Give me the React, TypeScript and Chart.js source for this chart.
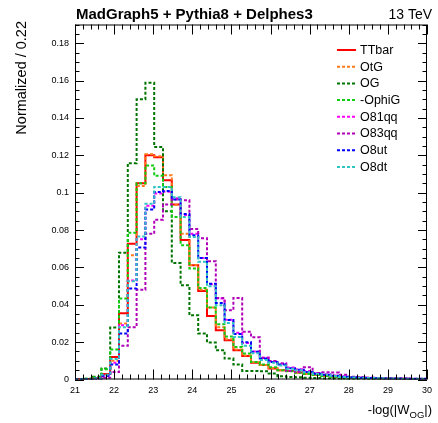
import React, { useEffect, useRef } from "react";
import { Chart, registerables } from "chart.js";
Chart.register(...registerables);

// Binning: 40 bins of width 0.225 from 21 to 30
const X_MIN = 21;
const X_MAX = 30;
const BIN_WIDTH = 0.225;
const Y_MAX = 0.19;

const TTbar = [0.0001, 0.0003, 0.0008, 0.003, 0.012, 0.0355, 0.0727, 0.105, 0.12, 0.119, 0.1066, 0.0936, 0.0747, 0.0611, 0.0474, 0.034, 0.0264, 0.021, 0.0157, 0.0126, 0.0089, 0.0077, 0.0059, 0.005, 0.0045, 0.0038, 0.003, 0.0025, 0.002, 0.0016, 0.0013, 0.001, 0.0009, 0.0007, 0.0006, 0.0005, 0.0004, 0.0004, 0.0003, 0.0003];
const OtG = [0.0001, 0.0003, 0.0007, 0.0025, 0.01, 0.03, 0.0665, 0.1035, 0.1205, 0.1195, 0.1093, 0.0935, 0.078, 0.0613, 0.048, 0.0385, 0.028, 0.0215, 0.016, 0.0128, 0.0092, 0.0078, 0.006, 0.005, 0.0045, 0.0037, 0.003, 0.0025, 0.002, 0.0016, 0.0013, 0.001, 0.0009, 0.0007, 0.0006, 0.0005, 0.0004, 0.0004, 0.0003, 0.0003];
const OG = [0.0001, 0.0004, 0.0015, 0.0059, 0.0278, 0.0679, 0.1158, 0.15, 0.1588, 0.1244, 0.09, 0.0624, 0.0504, 0.0344, 0.0246, 0.0198, 0.0157, 0.0112, 0.008, 0.0046, 0.0046, 0.0044, 0.0032, 0.0017, 0.0014, 0.0012, 0.001, 0.0008, 0.0006, 0.0005, 0.0004, 0.0003, 0.0003, 0.0002, 0.0002, 0.0002, 0.0001, 0.0001, 0.0001, 0.0001];
const OphiG = [0.0001, 0.0004, 0.0012, 0.0055, 0.016, 0.0433, 0.0786, 0.105, 0.1146, 0.109, 0.103, 0.087, 0.0718, 0.0594, 0.049, 0.0385, 0.0296, 0.023, 0.0174, 0.0139, 0.0094, 0.008, 0.0065, 0.005, 0.0044, 0.0036, 0.0029, 0.0024, 0.0019, 0.0015, 0.0012, 0.001, 0.0008, 0.0007, 0.0006, 0.0005, 0.0004, 0.0003, 0.0003, 0.0003];
const O81qq = [0.0001, 0.0002, 0.0005, 0.002, 0.009, 0.029, 0.053, 0.075, 0.093, 0.0995, 0.1005, 0.097, 0.088, 0.078, 0.065, 0.051, 0.0433, 0.032, 0.025, 0.0195, 0.015, 0.0118, 0.0098, 0.0085, 0.0064, 0.0055, 0.0045, 0.0035, 0.0028, 0.0022, 0.0017, 0.0013, 0.0011, 0.0009, 0.0008, 0.0006, 0.0005, 0.0005, 0.0004, 0.0004];
const O83qq = [0.0, 0.0001, 0.0003, 0.001, 0.004, 0.018, 0.028, 0.048, 0.078, 0.0855, 0.0936, 0.0964, 0.0959, 0.0805, 0.0756, 0.0633, 0.0436, 0.037, 0.0436, 0.0255, 0.0226, 0.0115, 0.0099, 0.0085, 0.0045, 0.004, 0.0065, 0.0035, 0.0039, 0.0037, 0.0026, 0.0015, 0.0013, 0.001, 0.0008, 0.0006, 0.0004, 0.0003, 0.0003, 0.0003];
const O8ut = [0.0001, 0.0002, 0.0005, 0.002, 0.008, 0.0246, 0.0487, 0.0706, 0.091, 0.1003, 0.1009, 0.0964, 0.0886, 0.0772, 0.065, 0.0513, 0.041, 0.0318, 0.0243, 0.0199, 0.0148, 0.0112, 0.0094, 0.008, 0.006, 0.0052, 0.004, 0.0031, 0.0026, 0.002, 0.0015, 0.0012, 0.001, 0.0008, 0.0007, 0.0006, 0.0005, 0.0005, 0.0004, 0.0004];
const O8dt = [0.0001, 0.0002, 0.0006, 0.0025, 0.011, 0.028, 0.0526, 0.0765, 0.094, 0.103, 0.103, 0.0976, 0.087, 0.0763, 0.063, 0.0499, 0.0397, 0.0303, 0.0228, 0.018, 0.014, 0.0105, 0.009, 0.0075, 0.0058, 0.005, 0.0039, 0.003, 0.0025, 0.0019, 0.0014, 0.0011, 0.001, 0.0008, 0.0007, 0.0006, 0.0005, 0.0004, 0.0004, 0.0004];

const SERIES = [
  { label: "TTbar", data: TTbar, color: "#ff0000", dash: [] as number[] },
  { label: "OtG", data: OtG, color: "#ff7a1a", dash: [3, 2] },
  { label: "OG", data: OG, color: "#007400", dash: [3, 2] },
  { label: "-OphiG", data: OphiG, color: "#11cc11", dash: [3, 2] },
  { label: "O81qq", data: O81qq, color: "#ff00ff", dash: [3, 2] },
  { label: "O83qq", data: O83qq, color: "#b000b8", dash: [3, 2] },
  { label: "O8ut", data: O8ut, color: "#0000ff", dash: [3, 2] },
  { label: "O8dt", data: O8dt, color: "#2ec4c4", dash: [3, 2] },
];

const FONT = "'Liberation Sans', Arial, Helvetica, sans-serif";

function toSteps(values: number[]) {
  const pts = values.map((v, i) => ({ x: X_MIN + i * BIN_WIDTH, y: v }));
  pts.push({ x: X_MIN + values.length * BIN_WIDTH, y: values[values.length - 1] });
  return pts;
}

const rootPlugin = {
  id: "rootStyle",
  afterDraw(chart: any) {
    const { ctx, chartArea: a, scales } = chart;
    const xs = scales.x;
    const ys = scales.y;
    ctx.save();
    // frame
    ctx.strokeStyle = "#000";
    ctx.lineWidth = 1;
    ctx.strokeRect(a.left + 0.5, a.top + 0.5, a.right - a.left - 1, a.bottom - a.top - 1);
    // x ticks
    ctx.beginPath();
    for (let i = 0; i <= 45; i++) {
      const v = X_MIN + i * 0.2;
      const px = Math.round(xs.getPixelForValue(v)) + 0.5;
      const len = i % 5 === 0 ? 10 : 5;
      ctx.moveTo(px, a.bottom);
      ctx.lineTo(px, a.bottom - len);
      ctx.moveTo(px, a.top);
      ctx.lineTo(px, a.top + len);
    }
    // y ticks
    for (let i = 0; i <= 38; i++) {
      const v = i * 0.005;
      const py = Math.round(ys.getPixelForValue(v)) + 0.5;
      const len = i % 4 === 0 ? 9 : 4.5;
      ctx.moveTo(a.left, py);
      ctx.lineTo(a.left + len, py);
      ctx.moveTo(a.right, py);
      ctx.lineTo(a.right - len, py);
    }
    ctx.stroke();

    // legend
    const ds = chart.data.datasets;
    ctx.font = `12.5px ${FONT}`;
    ctx.textBaseline = "middle";
    ctx.textAlign = "left";
    for (let i = 0; i < ds.length; i++) {
      const y = 50 + i * 16.7;
      ctx.strokeStyle = ds[i].borderColor;
      ctx.lineWidth = 2;
      ctx.setLineDash(ds[i].borderDash || []);
      ctx.beginPath();
      ctx.moveTo(337, y);
      ctx.lineTo(356, y);
      ctx.stroke();
      ctx.setLineDash([]);
      ctx.fillStyle = "#000";
      ctx.fillText(ds[i].label, 360, y + 0.5);
    }

    // titles
    ctx.fillStyle = "#000";
    ctx.textBaseline = "alphabetic";
    ctx.font = `bold 15px ${FONT}`;
    ctx.textAlign = "left";
    ctx.fillText("MadGraph5 + Pythia8 + Delphes3", 76, 19);
    ctx.font = `14px ${FONT}`;
    ctx.textAlign = "right";
    ctx.fillText("13 TeV", 432, 19);

    // y title
    ctx.save();
    ctx.translate(26, 21);
    ctx.rotate(-Math.PI / 2);
    ctx.font = `14.5px ${FONT}`;
    ctx.textAlign = "right";
    ctx.fillText("Normalized / 0.22", 0, 0);
    ctx.restore();

    // x title with subscript
    const base = 414;
    ctx.textAlign = "left";
    const mainFont = `13px ${FONT}`;
    const subFont = `9.5px ${FONT}`;
    ctx.font = mainFont;
    const p1 = "-log(|W";
    const p3 = "|)";
    const w1 = ctx.measureText(p1).width;
    const w3 = ctx.measureText(p3).width;
    ctx.font = subFont;
    const w2 = ctx.measureText("OG").width;
    const x0 = 432 - (w1 + w2 + w3);
    ctx.font = mainFont;
    ctx.fillText(p1, x0, base);
    ctx.font = subFont;
    ctx.fillText("OG", x0 + w1, base + 4);
    ctx.font = mainFont;
    ctx.fillText(p3, x0 + w1 + w2, base);
    ctx.restore();
  },
};

export default function App() {
  const ref = useRef<HTMLCanvasElement | null>(null);
  useEffect(() => {
    if (!ref.current) return;
    const n = SERIES.length;
    const chart = new Chart(ref.current, {
      type: "line",
      data: {
        datasets: SERIES.map((s, i) => ({
          label: s.label,
          data: toSteps(s.data),
          borderColor: s.color,
          backgroundColor: s.color,
          borderWidth: 2,
          borderDash: s.dash,
          pointRadius: 0,
          stepped: true,
          fill: false,
          tension: 0,
          order: n - i,
        })),
      },
      options: {
        animation: false,
        responsive: false,
        maintainAspectRatio: false,
        layout: { padding: { left: 0, top: 24.5, right: 6.5, bottom: 0 } },
        plugins: {
          legend: { display: false },
          tooltip: { enabled: false },
          title: { display: false },
        },
        scales: {
          x: {
            type: "linear",
            min: X_MIN,
            max: X_MAX,
            grid: { display: false, drawTicks: false },
            border: { display: false },
            ticks: {
              stepSize: 1,
              color: "#000",
              padding: 6,
              font: { size: 9, family: FONT },
              maxRotation: 0,
            },
            afterFit: (scale: any) => {
              scale.height = 43.5;
            },
          },
          y: {
            type: "linear",
            min: 0,
            max: Y_MAX,
            grid: { display: false, drawTicks: false },
            border: { display: false },
            ticks: {
              stepSize: 0.02,
              color: "#000",
              padding: 6,
              font: { size: 9, family: FONT },
              callback: (v: any) => {
                const val = Number(v);
                if (Math.abs(val - Y_MAX) < 1e-9 && Math.abs(Math.round(val / 0.02) * 0.02 - val) > 1e-9) return "";
                return String(parseFloat(val.toFixed(3)));
              },
            },
            afterFit: (scale: any) => {
              scale.width = 75;
            },
          },
        },
      },
      plugins: [rootPlugin],
    });
    return () => chart.destroy();
  }, []);
  return (
    <div style={{ position: "absolute", left: 0, top: 0, width: 438, height: 423, background: "#fff" }}>
      <canvas ref={ref} width={438} height={423} style={{ width: 438, height: 423 }} />
    </div>
  );
}
